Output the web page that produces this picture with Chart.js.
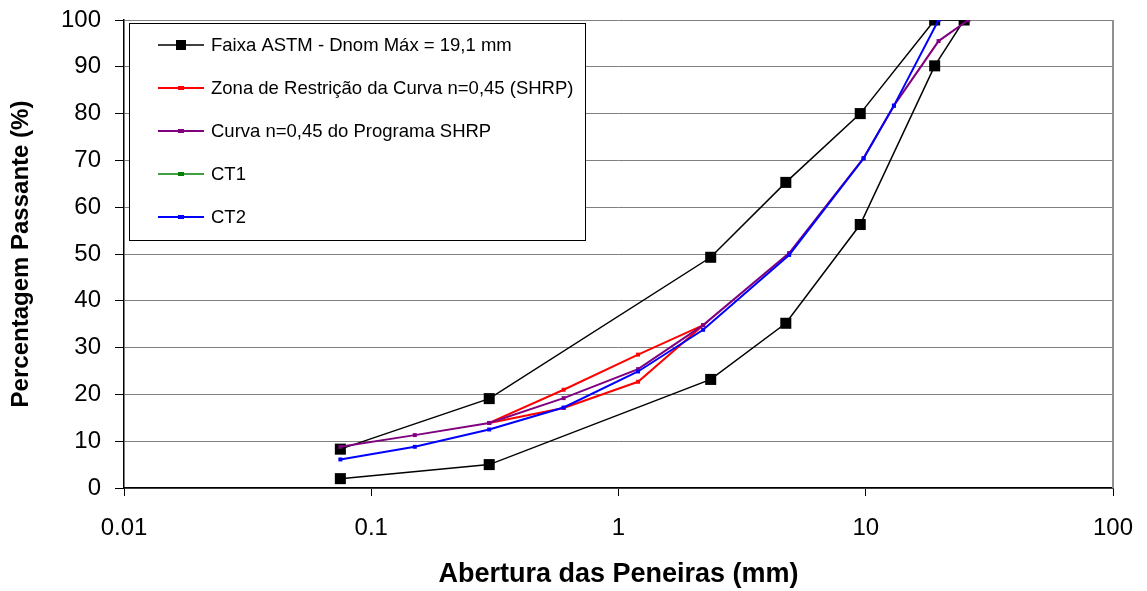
<!DOCTYPE html>
<html>
<head>
<meta charset="utf-8">
<script src="https://cdn.jsdelivr.net/npm/chart.js@4.4.1/dist/chart.umd.min.js"></script>
<style>
  html, body { margin: 0; padding: 0; background: #fff; }
  canvas { display: block; }
</style>
</head>
<body>
<canvas id="chart" width="1147" height="591"></canvas>
<script>
// series (x = sieve opening in mm, y = % passing)
const astmX = [0.075, 0.3, 2.36, 4.75, 9.5, 19, 25, 19, 9.5, 4.75, 2.36, 0.3, 0.075];
const astmY = [2, 5, 23.2, 35.2, 56.3, 90.2, 100, 100, 80, 65.3, 49.3, 19.1, 8.3];

const zonaX = [0.3, 0.6, 1.2, 2.2, 1.2, 0.6, 0.3];
const zonaY = [13.9, 21, 28.5, 34.8, 22.7, 17.1, 13.9];

const shrpX = [0.075, 0.15, 0.3, 0.6, 1.2, 2.2, 4.9, 9.8, 13, 19.7, 26];
const shrpY = [8.8, 11.3, 13.9, 19.2, 25.4, 34.8, 50.2, 70.5, 81.7, 95.5, 100];

const ct1X = [];
const ct1Y = [];

const ct2X = [0.075, 0.15, 0.3, 0.6, 1.2, 2.2, 4.9, 9.8, 13, 19.7];
const ct2Y = [6.1, 8.8, 12.5, 17.2, 24.9, 33.8, 49.8, 70.4, 81.7, 100];

const xTicks = [0.01, 0.1, 1, 10, 100];
const yTicks = [0, 10, 20, 30, 40, 50, 60, 70, 80, 90, 100];

const FONT = 'Arial, "Liberation Sans", sans-serif';

const toPoints = (xs, ys) => xs.map((x, i) => ({ x, y: ys[i] }));

const series = [
    { label: 'Faixa ASTM - Dnom Máx = 19,1 mm', xs: astmX, ys: astmY, color: '#000000', width: 1.5, radius: 7.8, order: 5 },
    { label: 'Zona de Restrição da Curva n=0,45 (SHRP)', xs: zonaX, ys: zonaY, color: '#ff0000', width: 2, radius: 2.8, order: 4 },
    { label: 'Curva n=0,45 do Programa SHRP', xs: shrpX, ys: shrpY, color: '#800080', width: 2, radius: 2.8, order: 3 },
    { label: 'CT1', xs: ct1X, ys: ct1Y, color: '#008000', width: 1.5, radius: 2.8, order: 2 },
    { label: 'CT2', xs: ct2X, ys: ct2Y, color: '#0000ff', width: 2, radius: 2.8, order: 1 }
];

// legend drawn inside the plot, top-left, like the spreadsheet original
const boxLegend = {
    id: 'boxLegend',
    afterDatasetsDraw(chart) {
        const { ctx } = chart;
        const left = 129, top = 23, w = 456, h = 217;
        ctx.save();
        ctx.fillStyle = '#ffffff';
        ctx.fillRect(left, top, w, h);
        ctx.strokeStyle = '#000000';
        ctx.lineWidth = 1;
        ctx.strokeRect(left + 0.5, top + 0.5, w, h);
        ctx.font = '18.5px ' + FONT;
        ctx.textBaseline = 'middle';
        series.forEach((s, i) => {
            const y = 45 + i * 43;
            ctx.strokeStyle = s.color;
            ctx.lineWidth = s.width;
            ctx.beginPath();
            ctx.moveTo(158, y);
            ctx.lineTo(204, y);
            ctx.stroke();
            ctx.fillStyle = s.color;
            if (i === 0) ctx.fillRect(176, y - 5, 10, 10);
            else ctx.fillRect(178, y - 2, 6, 4);
            ctx.fillStyle = '#000000';
            ctx.fillText(s.label, 211, y + 1);
        });
        ctx.restore();
    }
};

const rightEdge = {
    id: 'rightEdge',
    beforeDatasetsDraw(chart) {
        const { ctx, chartArea } = chart;
        ctx.save();
        ctx.strokeStyle = '#909090';
        ctx.lineWidth = 2;
        ctx.beginPath();
        ctx.moveTo(chartArea.right, chartArea.top);
        ctx.lineTo(chartArea.right, chartArea.bottom);
        ctx.stroke();
        ctx.restore();
    }
};

new Chart(document.getElementById('chart'), {
    type: 'scatter',
    data: {
        datasets: series.map(s => ({
            label: s.label,
            data: toPoints(s.xs, s.ys),
            showLine: true,
            borderColor: s.color,
            backgroundColor: s.color,
            borderWidth: s.width,
            pointStyle: 'rect',
            pointRadius: s.radius,
            pointBorderWidth: 0,
            pointBackgroundColor: s.color,
            tension: 0,
            order: s.order
        }))
    },
    options: {
        responsive: false,
        animation: false,
        devicePixelRatio: 1,
        layout: { padding: { left: 0, right: 34, top: 20, bottom: 0 } },
        plugins: {
            legend: { display: false },
            tooltip: { enabled: false }
        },
        scales: {
            x: {
                type: 'logarithmic',
                min: 0.01,
                max: 100,
                afterBuildTicks: (scale) => { scale.ticks = xTicks.map(v => ({ value: v })); },
                afterFit: (scale) => {
                    scale.height = 103;
                    scale.paddingLeft = 0;
                    scale.paddingRight = 0;
                },
                ticks: {
                    autoSkip: false,
                    maxRotation: 0,
                    padding: 18,
                    color: '#000000',
                    font: { family: FONT, size: 24 },
                    callback: (v) => String(v)
                },
                grid: { drawOnChartArea: false, drawTicks: true, tickLength: 8, tickColor: '#000000' },
                border: { color: '#000000', width: 1.5 },
                title: {
                    display: true,
                    text: 'Abertura das Peneiras (mm)',
                    color: '#000000',
                    font: { family: FONT, size: 27, weight: 'bold' },
                    padding: { top: 0, bottom: 0 }
                }
            },
            y: {
                min: 0,
                max: 100,
                afterBuildTicks: (scale) => { scale.ticks = yTicks.map(v => ({ value: v })); },
                afterFit: (scale) => {
                    scale.width = 124;
                    scale.paddingTop = 0;
                    scale.paddingBottom = 0;
                },
                ticks: {
                    padding: 14,
                    color: '#000000',
                    font: { family: FONT, size: 24 }
                },
                grid: { color: '#808080', lineWidth: 1, tickLength: 9, tickColor: '#000000' },
                border: { color: '#000000', width: 1.5 },
                title: {
                    display: true,
                    text: 'Percentagem Passante (%)',
                    color: '#000000',
                    font: { family: FONT, size: 24, weight: 'bold' },
                    padding: { top: 7, bottom: 0 }
                }
            }
        }
    },
    plugins: [rightEdge, boxLegend]
});
</script>
</body>
</html>
